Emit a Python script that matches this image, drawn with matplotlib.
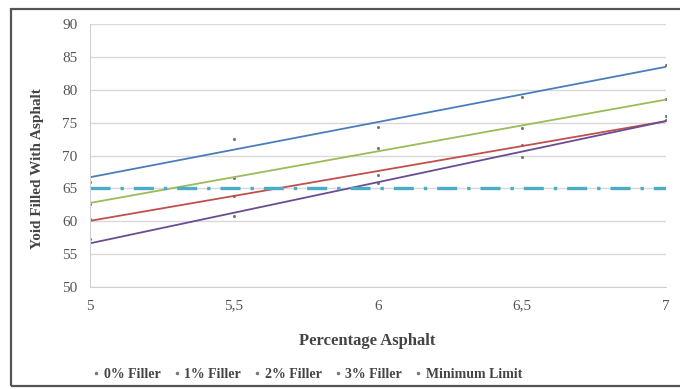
import numpy as np
import matplotlib.pyplot as plt
from matplotlib.patches import Rectangle

plt.rcParams['font.family'] = ['Liberation Serif', 'DejaVu Serif']

asphalt = [5, 5.5, 6, 6.5, 7]
tick_labels = ["5", "5,5", "6", "6,5", "7"]
filler_0 = [66.0, 72.5, 74.3, 78.9, 83.8]
filler_1 = [60.3, 63.9, 67.05, 71.6, 75.4]
filler_2 = [62.7, 66.6, 71.2, 74.2, 78.55]
filler_3 = [57.25, 60.8, 65.9, 69.8, 76.0]
minimum_limit = [65, 65, 65, 65, 65]

series = [
    ("0% Filler", filler_0, "#4A7EBB"),
    ("1% Filler", filler_1, "#C0504D"),
    ("2% Filler", filler_2, "#9BBB59"),
    ("3% Filler", filler_3, "#6A4C93"),
]

fig = plt.figure(figsize=(6.8, 3.89), dpi=100)
ax = fig.add_axes([0.132, 0.262, 0.847, 0.676])

x = np.array(asphalt)
for name, vals, color in series:
    ax.plot(x, vals, linestyle='none', marker='.', markersize=2.5,
            color='#777777', label=name)
    # linear trendline through the points
    slope, icpt = np.polyfit(x, vals, 1)
    xs = np.array([x.min(), x.max()])
    ax.plot(xs, slope * xs + icpt, color=color, linewidth=1.3)

ax.plot(x, minimum_limit, color='#4BACC6', linewidth=2.4,
        linestyle=(0, (6, 3, 1, 3)), label="Minimum Limit")

ax.set_xlim(5, 7)
ax.set_ylim(50, 90)
ax.set_yticks(range(50, 91, 5))
ax.set_xticks(asphalt)
ax.set_xticklabels(tick_labels)
ax.tick_params(axis='both', length=0, labelsize=11, colors='#555555', pad=9)
ax.yaxis.grid(True, color='#d9d9d9', linewidth=1)
ax.set_axisbelow(True)
for side in ['top', 'right']:
    ax.spines[side].set_visible(False)
for side in ['left', 'bottom']:
    ax.spines[side].set_color('#d0d0d0')

ax.set_xlabel("Percentage Asphalt", fontsize=12, fontweight='bold',
              color='#444444', labelpad=15)
ax.set_ylabel("Yoid Filled With Asphalt", fontsize=11, fontweight='bold',
              color='#444444', labelpad=13)
ax.xaxis.label.set_x(0.481)
ax.yaxis.label.set_y(0.45)

handles, labels = ax.get_legend_handles_labels()
leg = fig.legend(handles, labels, loc='center', bbox_to_anchor=(0.452, 0.038),
                 ncol=5, frameon=False, fontsize=10, handlelength=0.5,
                 handletextpad=0.3, columnspacing=0.9)
for t in leg.get_texts():
    t.set_fontweight('bold')
    t.set_color('#444444')
for h in leg.legend_handles:
    h.set_color('#777777')
    h.set_linestyle('none')
    h.set_marker('.')
    h.set_markersize(3)

fig.patches.append(Rectangle((0.016, 0.008), 1.0, 0.969, transform=fig.transFigure,
                             fill=False, edgecolor='#555555', linewidth=1.6))

fig.savefig("out.png", dpi=100)
